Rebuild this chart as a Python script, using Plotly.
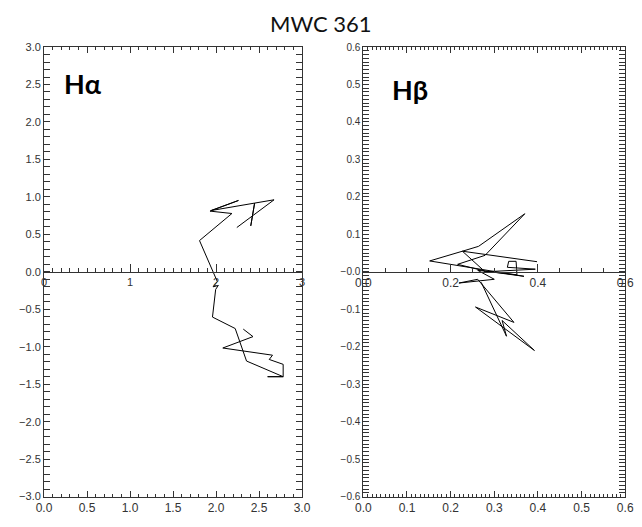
import plotly.graph_objects as go

# H-alpha differential track
ha_x = [2.242, 2.675, 2.449, 2.404, 2.449, 1.940, 2.261, 1.930, 2.185, 1.808,
        2.015, 1.966, 2.026, 1.996, 1.959, 2.223, 2.355, 2.781, 2.600, 2.781,
        2.781, 2.619, 2.657, 2.079, 2.430, 2.317]
ha_y = [0.591, 0.961, 0.917, 0.613, 0.917, 0.817, 0.952, 0.810, 0.778, 0.417,
        -0.130, -0.200, -0.183, -0.235, -0.604, -0.757, -1.191, -1.400, -1.400, -1.400,
        -1.235, -1.170, -1.113, -1.017, -0.865, -0.765]

# H-beta differential track
hb_x = [0.398, 0.227, 0.152, 0.368, 0.279, 0.216, 0.279, 0.370, 0.264, 0.227,
        0.279, 0.394, 0.330, 0.333, 0.350, 0.352, 0.262, 0.300, 0.219, 0.262,
        0.345, 0.257, 0.392, 0.318, 0.328, 0.270]
hb_y = [0.027, 0.055, 0.029, -0.012, 0.002, 0.020, 0.044, 0.155, 0.068, 0.055,
        0.000, 0.007, 0.012, 0.028, 0.028, -0.008, 0.004, -0.020, -0.030, -0.020,
        -0.135, -0.094, -0.210, -0.130, -0.172, -0.028]

ha_yticks = [-3.0, -2.5, -2.0, -1.5, -1.0, -0.5, 0.0, 0.5, 1.0, 1.5, 2.0, 2.5, 3.0]
ha_xticks = [0.0, 0.5, 1.0, 1.5, 2.0, 2.5, 3.0]
ha_mid_ticks = [0, 1, 2, 3]
hb_yticks = [-0.6, -0.5, -0.4, -0.3, -0.2, -0.1, 0.0, 0.1, 0.2, 0.3, 0.4, 0.5, 0.6]
hb_ytext = ["−0.6", "−0.5", "−0.4", "−0.3", "−0.2", "−0.1", "−0.0",
            "0.1", "0.2", "0.3", "0.4", "0.5", "0.6"]
hb_xticks = [0.0, 0.1, 0.2, 0.3, 0.4, 0.5, 0.6]
hb_mid_ticks = [0.0, 0.2, 0.4, 0.6]

W, H = 642, 527
L1, R1 = 37 / W, 302 / W
L2, R2 = 365 / W, 634 / W
B, T = 1 - 502 / H, 1 - 42 / H
MID = (B + T) / 2

AX = "#333333"
TICKFONT = dict(family="Liberation Sans", size=11, color="#333333")

fig = go.Figure()
fig.add_trace(go.Scatter(x=ha_x, y=ha_y, mode="lines", xaxis="x", yaxis="y",
                         line=dict(color="black", width=1), showlegend=False))
fig.add_trace(go.Scatter(x=hb_x, y=hb_y, mode="lines", xaxis="x2", yaxis="y2",
                         line=dict(color="black", width=1), showlegend=False))
# placeholders so the axes through the origin are drawn
fig.add_trace(go.Scatter(x=[None], y=[None], xaxis="x3", yaxis="y", showlegend=False))
fig.add_trace(go.Scatter(x=[None], y=[None], xaxis="x4", yaxis="y2", showlegend=False))


def frame_axis(**kw):
    d = dict(showline=True, linecolor=AX, linewidth=1, mirror="allticks",
             ticks="inside", tickcolor=AX, showgrid=False, zeroline=False,
             tickfont=TICKFONT, fixedrange=True)
    d.update(kw)
    return d


fig.update_layout(
    width=W, height=H,
    margin=dict(l=0, r=0, t=0, b=0),
    paper_bgcolor="white", plot_bgcolor="white",
    xaxis=frame_axis(domain=[L1, R1], range=[0, 3], anchor="y",
                     tickvals=ha_xticks, tickformat=".1f", ticklen=6,
                     minor=dict(dtick=0.1, ticklen=3, ticks="inside", tickcolor=AX),
                     tickfont=dict(family="Liberation Sans", size=12, color="#333333")),
    yaxis=frame_axis(domain=[B, T], range=[-3, 3], anchor="x",
                     tickvals=ha_yticks, tickformat=".1f", ticklen=6,
                     minor=dict(dtick=0.1, ticklen=3, ticks="inside", tickcolor=AX)),
    xaxis2=frame_axis(domain=[L2, R2], range=[0, 0.6], anchor="y2",
                      tickvals=hb_xticks, tickformat=".1f", ticklen=6,
                      minor=dict(dtick=0.01, ticklen=3, ticks="inside", tickcolor=AX),
                      tickfont=dict(family="Liberation Sans", size=12, color="#333333")),
    yaxis2=frame_axis(domain=[B, T], range=[-0.6, 0.6], anchor="x2",
                      tickvals=hb_yticks, ticktext=hb_ytext, ticklen=6,
                      minor=dict(dtick=0.01, ticklen=3, ticks="inside", tickcolor=AX),
                      tickfont=dict(family="Liberation Sans", size=10, color="#333333")),
    xaxis3=dict(overlaying="x", anchor="free", position=MID, side="bottom",
                range=[0, 3], showline=True, linecolor=AX, linewidth=1,
                ticks="inside", tickcolor=AX, ticklen=8,
                tickvals=ha_mid_ticks, ticktext=[str(v) for v in ha_mid_ticks],
                minor=dict(dtick=0.1, ticklen=4, ticks="inside", tickcolor=AX),
                showgrid=False, zeroline=False, fixedrange=True,
                tickfont=dict(family="Liberation Sans", size=11, color="#333333")),
    xaxis4=dict(overlaying="x2", anchor="free", position=MID, side="bottom",
                range=[0, 0.6], showline=True, linecolor=AX, linewidth=1,
                ticks="inside", tickcolor=AX, ticklen=8,
                tickvals=hb_mid_ticks, tickformat=".1f",
                minor=dict(dtick=0.05, ticklen=4, ticks="inside", tickcolor=AX),
                showgrid=False, zeroline=False, fixedrange=True,
                tickfont=dict(family="Liberation Sans", size=12, color="#333333")),
    annotations=[
        dict(text="MWC 361", x=0.5, y=1 - 18 / H, xref="paper", yref="paper",
             xanchor="center", yanchor="middle", showarrow=False,
             font=dict(family="Lato", size=22, color="#111111")),
        dict(text="Hα", x=55 / W, y=1 - 79 / H, xref="paper", yref="paper",
             xanchor="left", yanchor="middle", showarrow=False,
             font=dict(family="Lato", size=27, color="black", weight="bold")),
        dict(text="Hβ", x=392 / W, y=1 - 85 / H, xref="paper", yref="paper",
             xanchor="left", yanchor="middle", showarrow=False,
             font=dict(family="Lato", size=27, color="black", weight="bold")),
    ],
)

fig.write_html("out.html")
